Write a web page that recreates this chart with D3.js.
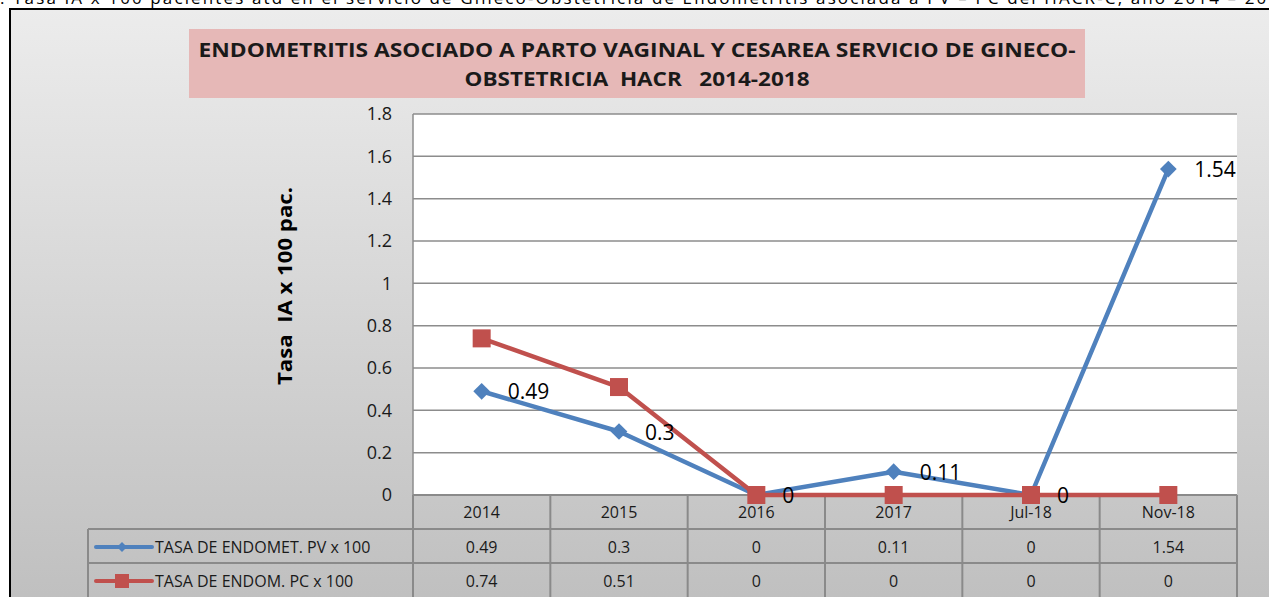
<!DOCTYPE html>
<html>
<head>
<meta charset="utf-8">
<script src="https://cdn.jsdelivr.net/npm/d3@7"></script>
<style>
  body { margin: 0; background: #fff; overflow: hidden; }
  svg { display: block; font-family: "Open Sans", "Liberation Sans", sans-serif; }
  .pre { white-space: pre; }
</style>
</head>
<body>
<div id="chart"></div>
<script>
// data
var categories = ['2014', '2015', '2016', '2017', 'Jul-18', 'Nov-18'];
var pvValues = [0.49, 0.3, 0, 0.11, 0, 1.54];
var pcValues = [0.74, 0.51, 0, 0, 0, 0];
var seriesNames = ['TASA DE ENDOMET. PV x 100', 'TASA DE ENDOM. PC x 100'];
var yTicks = [0, 0.2, 0.4, 0.6, 0.8, 1, 1.2, 1.4, 1.6, 1.8];
var titleLines = ['ENDOMETRITIS ASOCIADO A PARTO VAGINAL Y CESAREA SERVICIO DE GINECO-', 'OBSTETRICIA  HACR   2014-2018'];
var captionText = '. Tasa IA x 100 pacientes atd en el servicio de Gineco-Obstetricia de Endometritis asociada a PV – PC del HACR-C, año 2014 – 2018';

var W = 1269, H = 597;
var plot = { left: 413, right: 1237, top: 114, bottom: 495 };
var blue = '#4f81bd', red = '#c0504d';

var svg = d3.select('#chart').append('svg')
    .attr('width', W)
    .attr('height', H);

// background gradient
var defs = svg.append('defs');
var grad = defs.append('linearGradient')
    .attr('id', 'bg').attr('x1', 0).attr('y1', 0).attr('x2', 0).attr('y2', 1);
grad.append('stop').attr('offset', '0%').attr('stop-color', '#ececec');
grad.append('stop').attr('offset', '100%').attr('stop-color', '#bfbfbf');

svg.append('rect')
    .attr('x', 11).attr('y', 10)
    .attr('width', W).attr('height', H)
    .attr('fill', 'url(#bg)');

// frame
svg.append('path')
    .attr('d', 'M10,' + H + ' L10,9 L' + W + ',9')
    .attr('fill', 'none')
    .attr('stroke', '#000')
    .attr('stroke-width', 2);

// caption, cut off at the top edge like the original
svg.append('text')
    .attr('x', 0).attr('y', 4)
    .attr('font-size', 17)
    .attr('fill', '#000')
    .attr('textLength', 1290)
    .attr('lengthAdjust', 'spacing')
    .text(captionText);

// title box
svg.append('rect')
    .attr('x', 189).attr('y', 29)
    .attr('width', 896).attr('height', 69)
    .attr('fill', '#e6b8b7');

var titleLens = [877, 345];
svg.selectAll('.title').data(titleLines).enter().append('text')
    .attr('class', 'title pre')
    .attr('x', 637)
    .attr('y', function(d, i) { return 57 + i * 29; })
    .attr('text-anchor', 'middle')
    .attr('font-size', 20)
    .attr('font-weight', 'bold')
    .attr('fill', '#1a1a1a')
    .attr('textLength', function(d, i) { return titleLens[i]; })
    .attr('lengthAdjust', 'spacingAndGlyphs')
    .text(function(d) { return d; });

// scales
var x = d3.scaleBand()
    .domain(categories)
    .range([plot.left, plot.right]);

var y = d3.scaleLinear()
    .domain([0, 1.8])
    .range([plot.bottom, plot.top]);

// plot area
svg.append('rect')
    .attr('x', plot.left).attr('y', plot.top)
    .attr('width', plot.right - plot.left)
    .attr('height', plot.bottom - plot.top)
    .attr('fill', '#fff');

// gridlines
svg.append('g').selectAll('line').data(yTicks).enter().append('line')
    .attr('x1', plot.left).attr('x2', plot.right)
    .attr('y1', function(d) { return y(d); })
    .attr('y2', function(d) { return y(d); })
    .attr('stroke', '#8c8c8c')
    .attr('stroke-width', 1.5);

svg.append('line')
    .attr('x1', plot.left).attr('x2', plot.left)
    .attr('y1', plot.top).attr('y2', plot.bottom)
    .attr('stroke', '#8c8c8c').attr('stroke-width', 1.5);

// y axis labels
var yAxis = d3.axisLeft(y)
    .tickValues(yTicks)
    .tickSize(0)
    .tickPadding(21)
    .tickFormat(function(d) { return d3.format('')(+d.toFixed(1)); });

var yg = svg.append('g')
    .attr('transform', 'translate(' + plot.left + ',0)')
    .call(yAxis);
yg.select('.domain').remove();
yg.selectAll('text')
    .attr('font-size', 18)
    .attr('font-family', '"Open Sans", "Liberation Sans", sans-serif')
    .attr('fill', '#1a1a1a');

// y axis title
svg.append('text')
    .attr('class', 'pre')
    .attr('transform', 'translate(292,286) rotate(-90)')
    .attr('text-anchor', 'middle')
    .attr('font-size', 20)
    .attr('font-weight', 'bold')
    .attr('fill', '#000')
    .attr('textLength', 198)
    .attr('lengthAdjust', 'spacingAndGlyphs')
    .text('Tasa  IA x 100 pac.');

// data table
var rowTop = [495, 529, 563];
var legLeft = 88;
var tableColor = '#8a8a8a';

var table = svg.append('g').attr('class', 'table');

table.append('line')
    .attr('x1', plot.left).attr('x2', plot.right)
    .attr('y1', rowTop[0]).attr('y2', rowTop[0])
    .attr('stroke', tableColor).attr('stroke-width', 2);
[rowTop[1], rowTop[2], H + 1].forEach(function(yy) {
    table.append('line')
        .attr('x1', legLeft).attr('x2', plot.right)
        .attr('y1', yy).attr('y2', yy)
        .attr('stroke', tableColor).attr('stroke-width', 2);
});

table.append('line')
    .attr('x1', legLeft).attr('x2', legLeft)
    .attr('y1', rowTop[1]).attr('y2', H)
    .attr('stroke', tableColor).attr('stroke-width', 2);
var colEdges = categories.map(function(c) { return x(c); }).concat([plot.right]);
table.selectAll('.vline').data(colEdges).enter().append('line')
    .attr('class', 'vline')
    .attr('x1', function(d) { return d; }).attr('x2', function(d) { return d; })
    .attr('y1', rowTop[0]).attr('y2', H)
    .attr('stroke', tableColor).attr('stroke-width', 2);

// category header
table.selectAll('.cat').data(categories).enter().append('text')
    .attr('class', 'cat')
    .attr('x', function(d) { return x(d) + x.bandwidth() / 2; })
    .attr('y', rowTop[0] + 23)
    .attr('text-anchor', 'middle')
    .attr('font-size', 16)
    .attr('fill', '#1a1a1a')
    .text(function(d) { return d; });

// value rows
[pvValues, pcValues].forEach(function(vals, r) {
    table.selectAll('.val' + r).data(vals).enter().append('text')
        .attr('class', 'val' + r)
        .attr('x', function(d, i) { return x(categories[i]) + x.bandwidth() / 2; })
        .attr('y', rowTop[r + 1] + 24)
        .attr('text-anchor', 'middle')
        .attr('font-size', 16)
        .attr('fill', '#1a1a1a')
        .text(function(d) { return d; });
});

// diamond = square turned 45deg
var diamond = function(size) { return d3.symbol(d3.symbolSquare, size)(); };

// legend keys
var legY = [rowTop[1] + 18, rowTop[2] + 18];
var legColors = [blue, red];
legY.forEach(function(ly, r) {
    table.append('line')
        .attr('x1', 96).attr('x2', 152)
        .attr('y1', ly).attr('y2', ly)
        .attr('stroke', legColors[r])
        .attr('stroke-width', 4)
        .attr('stroke-linecap', 'round');
    if (r === 0) {
        table.append('path')
            .attr('d', diamond(50))
            .attr('transform', 'translate(122,' + ly + ') rotate(45)')
            .attr('fill', blue);
    } else {
        table.append('rect')
            .attr('x', 115).attr('y', ly - 7)
            .attr('width', 14).attr('height', 14)
            .attr('fill', red);
    }
    table.append('text')
        .attr('x', 155)
        .attr('y', ly + 6)
        .attr('font-size', 16)
        .attr('fill', '#1a1a1a')
        .text(seriesNames[r]);
});

// lines
var line = d3.line()
    .x(function(d, i) { return x(categories[i]) + x.bandwidth() / 2; })
    .y(function(d) { return y(d); });

svg.append('path')
    .datum(pvValues)
    .attr('d', line)
    .attr('fill', 'none')
    .attr('stroke', blue)
    .attr('stroke-width', 4.5)
    .attr('stroke-linejoin', 'round');

svg.append('path')
    .datum(pcValues)
    .attr('d', line)
    .attr('fill', 'none')
    .attr('stroke', red)
    .attr('stroke-width', 4.5)
    .attr('stroke-linejoin', 'round');

// markers
svg.selectAll('.pv').data(pvValues).enter().append('path')
    .attr('class', 'pv')
    .attr('d', diamond(140))
    .attr('transform', function(d, i) {
        return 'translate(' + (x(categories[i]) + x.bandwidth() / 2) + ',' + y(d) + ') rotate(45)';
    })
    .attr('fill', blue);

svg.selectAll('.pc').data(pcValues).enter().append('rect')
    .attr('class', 'pc')
    .attr('x', function(d, i) { return x(categories[i]) + x.bandwidth() / 2 - 9; })
    .attr('y', function(d) { return y(d) - 9; })
    .attr('width', 18).attr('height', 18)
    .attr('fill', red);

// data labels for PV
svg.selectAll('.lbl').data(pvValues).enter().append('text')
    .attr('class', 'lbl')
    .attr('x', function(d, i) { return x(categories[i]) + x.bandwidth() / 2 + 26; })
    .attr('y', function(d) { return y(d) + 8; })
    .attr('font-size', 21)
    .attr('fill', '#000')
    .text(function(d) { return d; });
</script>
</body>
</html>
